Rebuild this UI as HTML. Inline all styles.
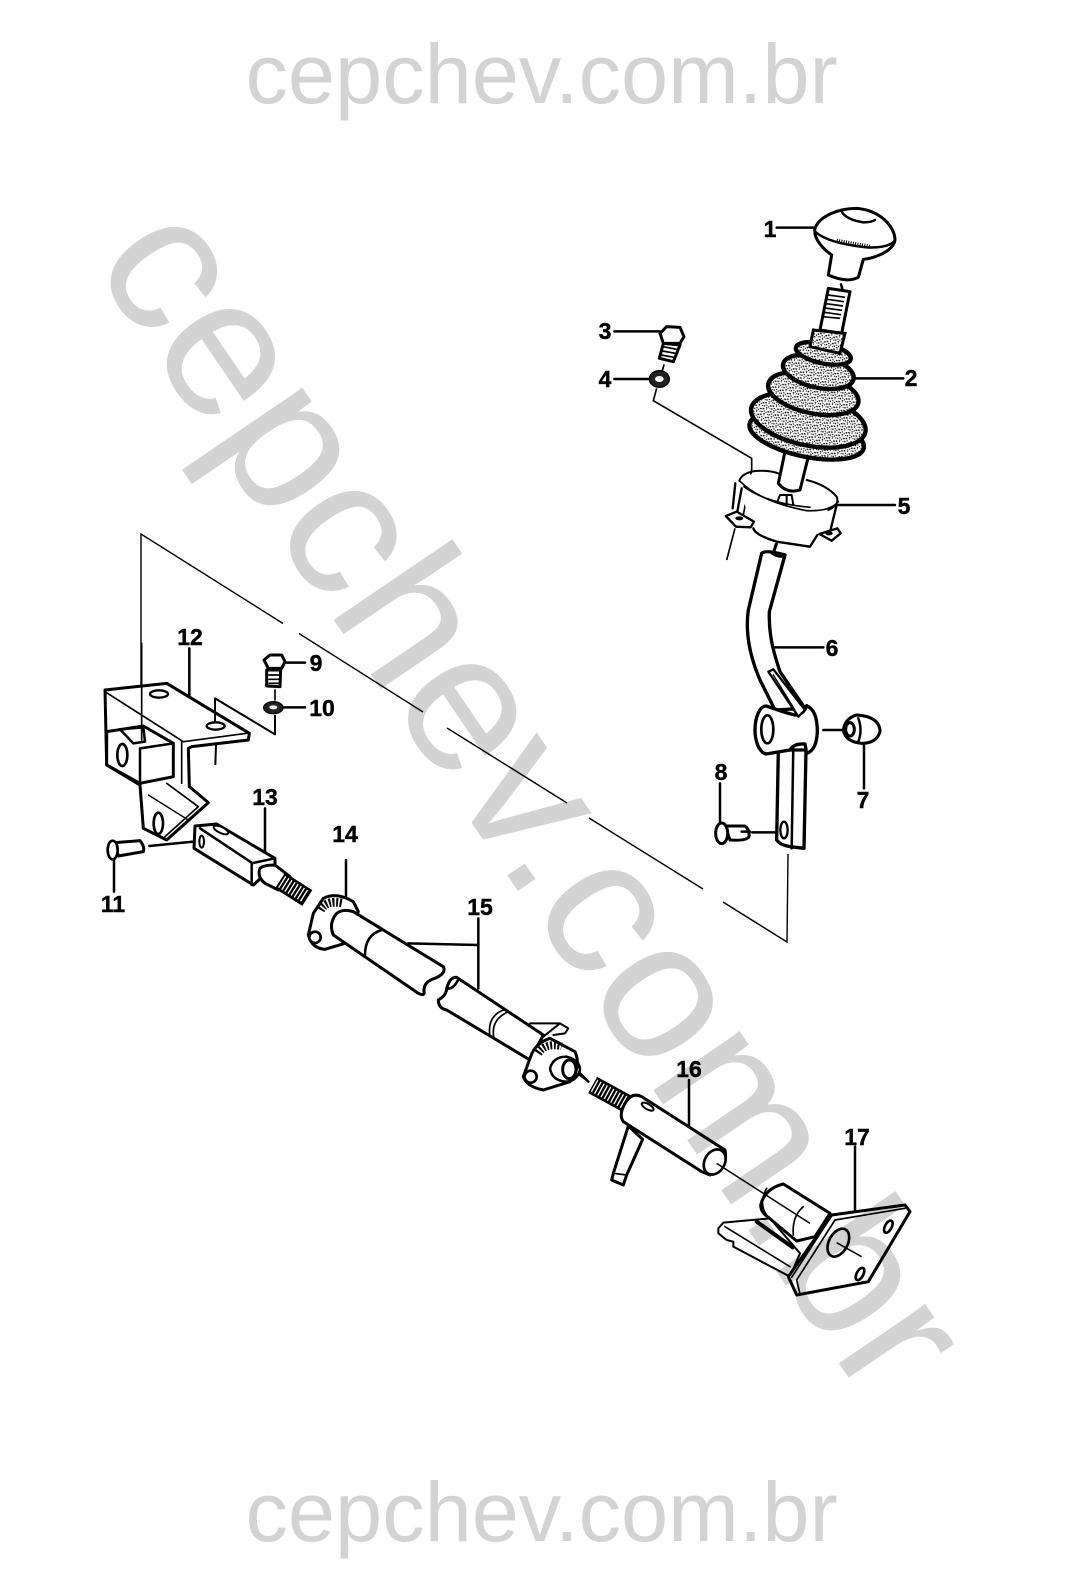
<!DOCTYPE html>
<html><head><meta charset="utf-8"><style>
html,body{margin:0;padding:0;background:#fff}
svg{display:block}
.wm{font-family:"Liberation Sans",sans-serif;fill:#d3d3d3;mix-blend-mode:multiply}
.lb{font-family:"Liberation Sans",sans-serif;font-weight:bold;font-size:23px;fill:#000;stroke:#000;stroke-width:.4;text-anchor:middle}
.p{fill:#fff;stroke:#000;stroke-width:9;stroke-linejoin:round;stroke-linecap:round}
.n{fill:none;stroke:#000;stroke-width:7.5;stroke-linejoin:round;stroke-linecap:round}
.t{fill:none;stroke:#000;stroke-width:4.5;stroke-linejoin:round}
.k{fill:#000;stroke:#000;stroke-width:3}
</style></head><body>
<svg width="1080" height="1580" viewBox="0 0 1080 1580" xmlns="http://www.w3.org/2000/svg">
<defs>
<pattern id="st" width="24" height="19" patternUnits="userSpaceOnUse" patternTransform="rotate(12)">
<rect width="24" height="19" fill="#fff"/>
<g fill="#000"><rect x="2" y="3" width="5" height="4"/><rect x="12" y="1" width="3" height="3"/><rect x="19" y="6" width="5" height="4"/><rect x="8" y="9" width="4" height="3"/><rect x="15" y="11" width="3" height="4"/><rect x="2" y="13" width="4" height="4"/><rect x="21" y="15" width="3" height="3"/><rect x="10" y="16" width="4" height="3"/></g>
</pattern>
</defs>
<rect width="1080" height="1580" fill="#fff"/>

<!-- long phantom line -->
<g fill="none" stroke="#000" stroke-width="1.4">
<path d="M141,736V534L283,623.5M299,633.5L423,712M447,728L567,803M589,818L703,889M723,902L787,942L788,854"/>
</g>

<!-- zoom 1 : knob, boot, cup -->
<g transform="translate(580,190) scale(.33333)">
<path class="n" d="M590,113H705M825,565H970M103,424H240M103,567H205M775,945H945"/>
<path class="p" d="M705,115C720,75 780,55 830,55C900,60 945,110 945,150C940,185 880,205 850,208L835,262Q800,280 745,255L755,195C720,170 700,140 705,115Z"/>
<path class="n" d="M785,65Q800,90 850,97Q875,97 885,90"/>
<path class="n" d="M705,125Q745,160 860,172Q920,175 942,155"/>
<path fill="none" stroke="#000" stroke-width="12" stroke-dasharray="3 4" d="M770,152L870,170"/>
<path class="n" d="M783,283L787,296"/>
<path class="p" d="M745,295L810,305L785,430L720,420Z"/>
<path fill="none" stroke="#000" stroke-width="5" d="M745,315L795,322M742,328L792,335M739,341L789,348M735,354L786,361M732,367L783,374M728,380L780,385"/>
<!-- bolt 3 / washer 4 -->
<path class="p" d="M240,430L260,410L300,412L312,440L300,460L250,460Z"/>
<path class="p" d="M250,460L300,465L280,515L238,505Z"/>
<path fill="none" stroke="#000" stroke-width="5" d="M250,470L290,478M247,483L286,490M243,495L282,502"/>
<path class="n" d="M252,525L246,545" style="stroke-width:5"/>
<ellipse cx="238" cy="567" rx="30" ry="25" fill="#222" stroke="#000" stroke-width="4"/>
<ellipse cx="238" cy="567" rx="13" ry="9" fill="#fff"/>
<path class="t" d="M230,595L220,632L515,805V840L490,975M465,1015L440,1110" style="stroke-width:5"/>
<!-- cup -->
<path fill="#fff" d="M478,870Q530,835 600,852L680,870Q740,885 775,925L750,1020L715,1035L690,1070L590,1055L512,1022Z"/>
<path class="n" d="M478,872Q485,850 525,843Q570,840 600,852M680,870Q740,885 770,920Q780,945 745,960" style="stroke-width:6"/>
<path class="n" d="M478,872Q540,935 680,962Q750,965 775,935M492,890Q560,940 690,952" style="stroke-width:5"/>
<path class="n" d="M466,880L458,955M485,895L472,965M770,945L752,1018M520,1015Q525,1035 590,1055L690,1070L712,1035" style="stroke-width:7"/>
<path class="p" d="M437,978L470,965L522,995L512,1012L468,1010Z" style="stroke-width:7"/>
<ellipse cx="478" cy="985" rx="12" ry="6" fill="#000"/>
<path class="p" d="M718,1032L772,1015L782,1030L755,1052Z" style="stroke-width:7"/>
<ellipse cx="747" cy="1030" rx="11" ry="6" fill="#000"/>
<path class="n" d="M592,935L600,915H635L640,945M620,915V945" style="stroke-width:6"/>
<path class="n" d="M590,1062L582,1085"/>
<path class="p" d="M615,785L595,880Q620,912 660,900L685,800Z"/>
<!-- boot -->
<g stroke="#000" stroke-width="13" fill="url(#st)">
<ellipse cx="680" cy="738" rx="175" ry="62" transform="rotate(12 680 738)"/>
<ellipse cx="685" cy="690" rx="175" ry="76" transform="rotate(12 685 690)"/>
<ellipse cx="700" cy="610" rx="138" ry="60" transform="rotate(12 700 610)"/>
<ellipse cx="715" cy="545" rx="108" ry="48" transform="rotate(12 715 545)"/>
<ellipse cx="730" cy="490" rx="84" ry="30" transform="rotate(12 730 490)"/>
<path d="M700,420L795,430L780,490L690,470Z" stroke-width="9"/>
</g>
</g>

<!-- zoom 2 : lever -->
<g transform="translate(680,540) scale(.33333)">
<path class="n" d="M285,322H430M430,570H495M552,615V745M120,730V850M217,877H290M288,12L282,30"/>
<path class="p" d="M245,40Q258,28 315,45L268,215C265,290 285,350 300,395L375,505L285,510L240,420C210,350 195,280 205,210Z" style="stroke-width:10"/>
<path class="n" d="M270,35Q285,50 305,50"/>
<path class="p" d="M295,630L290,900Q300,915 330,920L372,925L378,630Z" style="stroke-width:10"/>
<path class="n" d="M340,615L335,925"/>
<ellipse cx="312" cy="870" rx="11" ry="25" fill="#fff" stroke="#000" stroke-width="7"/>
<path class="p" d="M258,498C280,505 320,520 345,525Q370,525 380,497Q412,510 412,575Q410,630 380,640L375,612Q340,610 330,630L258,642C235,635 225,600 225,570C225,530 240,498 258,498Z" style="stroke-width:10"/>
<ellipse cx="262" cy="568" rx="18" ry="42" fill="#fff" stroke="#000" stroke-width="8"/>
<path class="p" d="M265,395L280,388L375,510L355,530Z" style="stroke-width:7"/>
<path class="n" d="M280,405L345,510" style="stroke-width:4"/>
<!-- 7 -->
<path class="p" d="M530,525Q600,530 600,575Q590,610 545,610Q495,605 490,570Q495,535 530,525Z"/>
<ellipse cx="510" cy="568" rx="13" ry="20" fill="#fff" stroke="#000" stroke-width="9"/>
<path class="n" d="M535,535Q548,570 535,605"/>
<!-- 8 -->
<path class="p" d="M135,858L195,858Q210,870 207,890Q200,903 150,900Z"/>
<path class="n" d="M210,875H185"/>
<ellipse cx="125" cy="880" rx="18" ry="31" fill="#fff" stroke="#000" stroke-width="9"/>
</g>

<!-- zoom 3 : bracket, 13 -->
<g transform="translate(90,620) scale(.33333)">
<path class="n" d="M298,85V225M590,128H645M580,262H645M525,565V710M72,720V815M178,678L310,665"/>
<path class="p" d="M45,210L230,190L478,340L475,360L305,380L295,385L298,500L355,548L230,660L160,625L150,495L50,435Z"/>
<path class="n" d="M45,215L280,365L470,340" style="stroke-width:5"/>
<path class="p" d="M50,335L160,318L250,370L250,470L150,490L50,435Z"/>
<path class="n" d="M150,385V490M150,385L250,370" />
<path class="n" d="M90,328L160,322L165,365L130,370Z"/>
<path class="n" d="M275,365L275,490M230,490L325,560L225,650" style="stroke-width:5"/>
<path class="n" d="M175,525L295,600" style="stroke-width:4"/>
<ellipse cx="97" cy="405" rx="15" ry="33" fill="#fff" stroke="#000" stroke-width="8"/>
<ellipse cx="205" cy="610" rx="14" ry="32" fill="#fff" stroke="#000" stroke-width="8"/>
<ellipse cx="207" cy="222" rx="27" ry="11" fill="#fff" stroke="#000" stroke-width="7"/>
<ellipse cx="377" cy="318" rx="27" ry="11" fill="#fff" stroke="#000" stroke-width="7"/>
<path class="n" d="M155,70V360" style="stroke-width:5"/>
<path class="t" d="M375,305V235L555,343V285M378,375L376,435" style="stroke-width:6"/>
<!-- 9,10 -->
<path class="p" d="M522,120L540,105H575L585,125L575,145H535Z"/>
<path class="p" d="M530,150H572L570,200L530,198Z"/>
<path fill="none" stroke="#000" stroke-width="5" d="M535,165H567M535,178H567M535,190H567"/>
<path class="n" d="M555,210V240" style="stroke-width:5"/>
<ellipse cx="550" cy="263" rx="29" ry="18" fill="#222" stroke="#000" stroke-width="4"/>
<ellipse cx="550" cy="262" rx="12" ry="6" fill="#fff"/>
<!-- 11 -->
<path class="p" d="M75,668L150,662Q165,680 160,695L85,708Z"/>
<ellipse cx="68" cy="690" rx="15" ry="28" fill="#fff" stroke="#000" stroke-width="8"/>
<!-- 13 -->
<path class="p" d="M315,618L380,612L555,715V735L490,795L312,685Z"/>
<path class="n" d="M330,625L488,730M485,730L555,715M485,730V795"/>
<ellipse cx="393" cy="630" rx="24" ry="9" transform="rotate(25 393 630)" fill="#fff" stroke="#000" stroke-width="6"/>
<ellipse cx="335" cy="665" rx="7" ry="18" fill="#fff" stroke="#000" stroke-width="6"/>
<path class="p" d="M510,745Q520,735 555,735L600,770L565,810L525,790Q500,770 510,745Z"/>
<path fill="none" stroke="#000" stroke-width="56" d="M570,782L652,834"/>
<path fill="none" stroke="#fff" stroke-width="40" stroke-dasharray="4 7" d="M575,785L647,830"/>
</g>

<!-- zoom 4 : shaft -->
<g transform="translate(290,860) scale(.33333)">
<path class="n" d="M168,0V115M355,250L565,255M565,175V385M870,640L895,665"/>
<path class="p" d="M100,115Q140,95 190,125L205,155L165,250L105,268Q65,265 55,225L70,160Z"/>
<path fill="none" stroke="#000" stroke-width="26" stroke-dasharray="6 5" d="M92,150Q110,118 160,130"/>
<circle cx="75" cy="232" r="17" fill="#fff" stroke="#000" stroke-width="8"/>
<path class="p" d="M190,155L460,320Q470,340 435,355Q400,365 402,395Q405,410 385,400L130,225Q115,190 140,160Q160,145 190,155Z"/>
<path class="n" d="M225,285Q225,225 275,210"/>
<path class="p" d="M500,352L760,525L720,600L470,450Q445,445 445,420Q470,405 470,385Q480,350 500,352Z"/>
<path class="n" d="M470,385Q490,390 505,358"/>
<path class="n" d="M600,530Q590,470 640,450M612,535Q600,480 655,455" style="stroke-width:5"/>
<path class="n" d="M720,490H810L835,505L825,520L790,525M760,530L810,490" style="stroke-width:6"/>
<path class="p" d="M722,590L700,650Q710,680 760,690L840,665Q875,620 855,575L780,535Q735,550 722,590Z"/>
<path fill="none" stroke="#000" stroke-width="24" stroke-dasharray="6 5" d="M745,580Q765,548 815,558"/>
<path class="n" d="M780,625Q790,590 830,590Q870,600 870,630Q860,665 825,665Q785,660 780,625Z"/>
<ellipse cx="838" cy="628" rx="20" ry="28" fill="#fff" stroke="#000" stroke-width="9"/>
<circle cx="722" cy="650" r="18" fill="#fff" stroke="#000" stroke-width="8"/>
</g>

<!-- zoom 5 : 16, 17 -->
<g transform="translate(570,1040) scale(.33333)">
<path class="n" d="M357,120V255M855,320V510M30,105L48,118"/>
<path fill="none" stroke="#000" stroke-width="56" d="M68,135L172,192"/>
<path fill="none" stroke="#fff" stroke-width="40" stroke-dasharray="4 7" d="M72,137L170,191"/>
<path class="p" d="M175,258L130,400L125,420L160,435L170,405L218,298Z"/>
<path class="n" d="M130,400L170,405" style="stroke-width:5"/>
<path class="p" d="M165,190Q185,155 215,170L465,330Q475,380 420,405L395,395L160,245Q145,225 165,190Z" style="stroke-width:9"/>
<ellipse cx="434" cy="366" rx="30" ry="40" transform="rotate(30 434 366)" fill="#fff" stroke="#000" stroke-width="8"/>
<ellipse cx="233" cy="200" rx="20" ry="8" transform="rotate(30 233 200)" fill="#fff" stroke="#000" stroke-width="6"/>
<!-- 17 -->
<path class="p" d="M445,565L460,548L600,535L690,640L660,710L490,620V605L470,600L445,580Z" style="stroke-width:6"/>
<path class="n" d="M465,560L660,680" style="stroke-width:5"/>
<path class="n" d="M560,545L668,622" style="stroke-width:12"/>
<path class="p" d="M572,495Q585,445 640,432L780,520L735,590L680,603L590,528Q572,515 572,495Z"/>
<path class="n" d="M590,445Q565,490 590,525" style="stroke-width:5"/>
<path class="n" d="M700,500Q665,530 670,585" style="stroke-width:5"/>
<path class="p" d="M785,525L1005,495L1020,515L895,725L680,765L655,710Z"/>
<path class="n" d="M795,540L1005,505M795,540L680,720L690,762M780,535L665,712" style="stroke-width:5"/>
<ellipse cx="805" cy="608" rx="28" ry="45" transform="rotate(28 805 608)" fill="#fff" stroke="#000" stroke-width="8"/>
<ellipse cx="955" cy="560" rx="10" ry="20" transform="rotate(28 955 560)" fill="#fff" stroke="#000" stroke-width="8"/>
<ellipse cx="870" cy="702" rx="10" ry="20" transform="rotate(28 870 702)" fill="#fff" stroke="#000" stroke-width="8"/>
<path class="t" d="M440,370L720,550M800,608L875,650"/>
</g>

<!-- labels -->
<text class="lb" x="770" y="237">1</text>
<text class="lb" x="911" y="386">2</text>
<text class="lb" x="605" y="339">3</text>
<text class="lb" x="605" y="387">4</text>
<text class="lb" x="904" y="514">5</text>
<text class="lb" x="832" y="656">6</text>
<text class="lb" x="863" y="808">7</text>
<text class="lb" x="721" y="780">8</text>
<text class="lb" x="316" y="671">9</text>
<text class="lb" x="322" y="716">10</text>
<text class="lb" x="113" y="912">11</text>
<text class="lb" x="190" y="645">12</text>
<text class="lb" x="265" y="805">13</text>
<text class="lb" x="345" y="842">14</text>
<text class="lb" x="480" y="915">15</text>
<text class="lb" x="689" y="1077">16</text>
<text class="lb" x="857" y="1145">17</text>

<!-- watermark overlays everything -->
<text class="wm" x="245.5" y="103" font-size="84.8">cepchev.com.br</text>
<text class="wm" x="245.5" y="1541" font-size="84.8">cepchev.com.br</text>
<text class="wm" transform="translate(90.9,262.6) rotate(55.8)" font-size="198">cepchev.com.br</text>
</svg>
</body></html>
